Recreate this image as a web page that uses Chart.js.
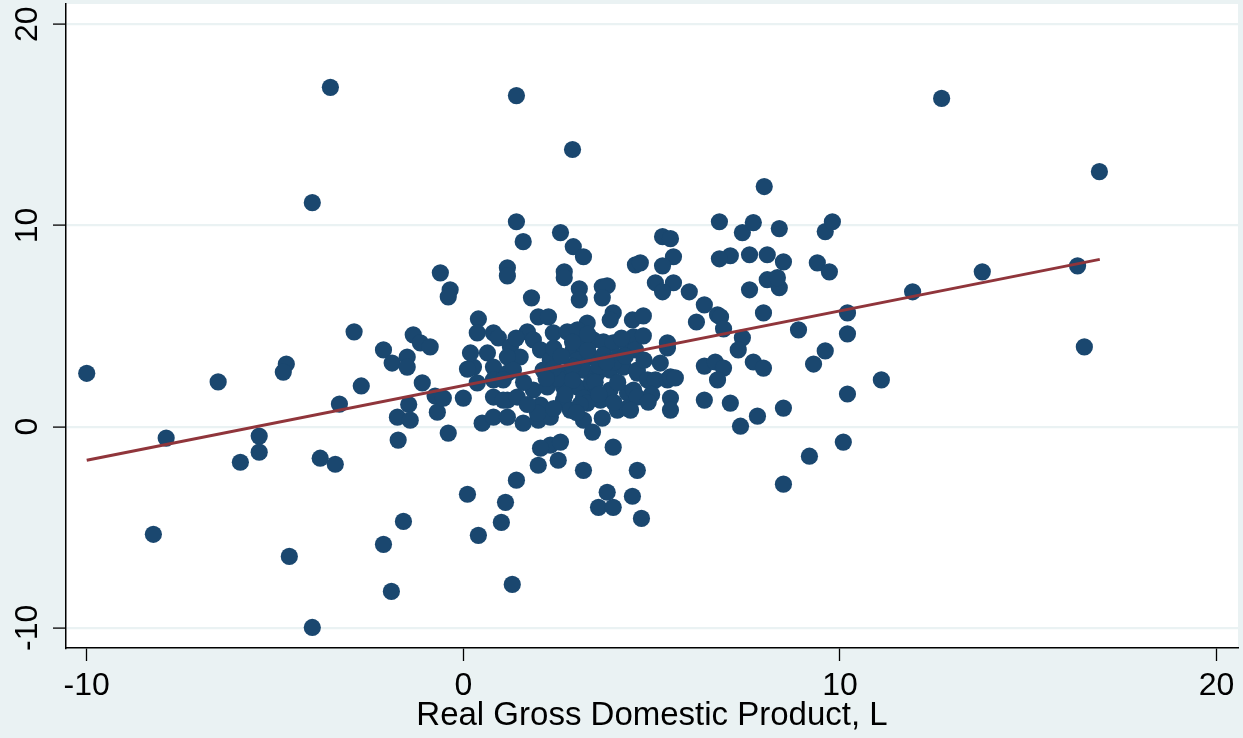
<!DOCTYPE html>
<html>
<head>
<meta charset="utf-8">
<script src="https://cdn.jsdelivr.net/npm/chart.js@4.4.1/dist/chart.umd.min.js"></script>
<style>
  html, body { margin: 0; padding: 0; background: #eaf2f3; }
  #wrap { width: 1243px; height: 738px; }
</style>
</head>
<body>
<div id="wrap"><canvas id="grafico"></canvas></div>
<script>
// Puntos observados (x = PIB real, L ; y = variable dependiente)
const puntosX = [
  -10.0, -7.89, -8.23, -6.51, -5.92, -5.42, -5.42, -4.70, -4.78, -4.62, -4.01, -4.01, -3.53, -3.80, -3.40, -3.29,
  -2.90, -2.71, -2.12, -2.12, -1.91, -1.89, -1.75, -1.73, -1.59, -1.49, -1.49, -1.45, -1.41, -1.33, -1.14, -0.88,
  -1.09, -0.75, -0.69, -0.61, -0.53, -0.35, -0.40, -0.40, 0.00, 0.11,
  0.40, 0.37, 0.80, 0.93, 0.27, 0.11, 0.19, 0.64, 0.80, 0.37, 0.80, 0.80, 1.17, 1.17, 0.50, 0.80, 1.17, 1.59, 1.99, 2.31,
  3.19, 3.43, 3.69, 3.98, 2.31, 2.58, 2.05, 1.99, 2.52, 3.19, 4.62, 3.82, 3.59, 3.98, 4.49, 4.73, 1.41, 1.12, 1.01, 0.40,
  1.30, 1.41, 2.90, 1.41, 1.59, 2.58, 2.92, 3.19, 1.17, 1.17, 2.68, 2.68, 3.08, 3.08, 3.69, 3.82, 3.69, 1.81, 1.99, 2.26,
  3.98, 3.90, 4.49, 3.29, 1.70, 2.39, 2.76, 3.03, 1.86, 1.25, 2.05, 2.92, 3.19, 3.45, 3.72, 3.98, 4.36, 4.52, 1.51, 2.31,
  3.03, 3.37, 3.72, 4.09, 1.17, 1.33, 2.12, 2.76, 3.19, 3.56, 3.90, 4.25, 4.62, 1.06, 1.86, 2.23, 2.66, 3.03, 3.45, 3.90,
  4.36, 1.06, 1.43, 2.66, 3.19, 3.64, 2.05, 1.97, 2.84, 3.29, 4.09, 4.36, 4.57, 4.62, 4.89, 5.10, 5.42, 4.52, 4.62, 4.44,
  5.42, 2.50, 3.40, 2.90, 3.60, 4.00, 2.40,
  2.40, 2.60, 2.90, 3.30, 3.50, 3.80, 4.10, 4.30, 2.20, 2.70, 3.10, 3.60, 4.00, 4.20, 3.30, 2.90, 1.60, 1.70, 2.40, 3.00,
  4.80, 5.00, 1.40,
  4.57, 4.70, 5.29, 5.50, 5.58, 5.29, 5.10, 5.58, 5.29, 6.00, 4.78, 4.78, 5.42, 5.23, 5.50, 5.63, 5.50, 5.50, 4.91,
  6.40, 6.19, 6.75, 6.83, 6.91, 6.40, 6.69, 6.91, 6.75, 6.40, 7.09, 7.36, 7.81, 7.41, 7.30, 7.70, 7.97, 7.97, 7.60, 8.39,
  8.07, 8.34, 7.60, 8.07, 7.09, 6.80, 8.50, 6.80, 7.41, 7.70, 8.39, 7.99, 8.50, 8.50, 8.90, 9.30, 9.61, 9.19, 10.09, 10.20,
  10.20, 10.20, 9.40, 9.72, 9.61, 9.80, 11.10, 11.93, 13.78, 12.70, 16.89, 16.31, 16.49
];
const puntosY = [
  2.65, -0.57, -5.35, 2.22, -1.77, -0.47, -1.27, 3.11, 2.71, -6.45, -9.98, 11.13, 16.86, -1.57, -1.87, 1.12,
  4.71, 2.02, 3.81, -5.85, -8.19, 3.16, 0.47, -0.67, -4.71, 3.46, 2.96, 1.10, 0.32, 4.56, 4.16, 3.96,
  2.17, 1.52, 0.72, 7.64, 1.42, 6.80, 6.45, -0.32, 1.42, -3.36,
  5.35, 4.66, 4.66, 4.41, 2.96, 2.86, 3.66, 3.66, 2.96, 2.17, 2.32, 1.47, 1.32, 2.66, 0.17, 0.47, 0.47, 0.17, 0.32, 0.47,
  0.32, -0.27, 0.42, -1.02, -0.92, -0.77, -1.07, -1.92, -1.67, -2.17, -2.17, -3.26, -4.01, -4.01, -3.46, -4.56, -2.66, -3.76, -4.76, -5.40,
  -7.84, 16.45, 13.77, 10.18, 9.19, 9.64, 8.94, 8.44, 7.89, 7.49, 7.69, 7.40, 6.85, 6.30, 6.95, 7.00, 6.40, 6.40, 5.45, 5.45,
  5.65, 5.30, 5.30, 5.15, 4.71, 4.66, 4.71, 4.81, 4.31, 3.96, 3.81, 3.81, 4.06, 4.31, 4.21, 4.16, 3.96, 4.46, 3.46, 3.31,
  3.31, 3.46, 3.56, 3.46, 3.46, 2.81, 2.81, 2.66, 2.81, 2.66, 2.81, 2.96, 2.66, 2.32, 1.82, 1.97, 1.97, 1.97, 1.82, 1.82,
  1.67, 1.32, 1.47, 1.32, 1.42, 1.32, 1.07, 0.67, 0.82, 1.17, 0.82, 0.92, 3.81, 2.81, 2.32, 2.32, 2.32, 1.82, 1.47, 0.82,
  3.91, 2.40, 2.20, 3.00, 3.00, 3.20, 2.90,
  3.90, 3.50, 2.30, 3.80, 2.20, 3.20, 2.20, 3.50, 2.40, 1.60, 1.10, 1.60, 1.20, 4.40, 4.60, 4.20, 2.20, 1.10, 0.90, 0.70,
  3.30, 1.60, 4.40,
  8.04, 8.14, 9.44, 9.34, 8.44, 7.99, 7.15, 7.15, 6.70, 6.70, 5.50, 4.51, 4.16, 3.16, 2.47, 2.42, 1.42, 0.82, 1.22,
  6.05, 5.20, 5.55, 5.45, 4.86, 3.01, 3.21, 2.91, 2.32, 1.32, 1.17, 0.02, 0.52, 4.41, 3.81, 3.21, 2.91, 5.65, 6.80, 6.90,
  7.30, 7.40, 8.54, 8.54, 8.49, 8.34, 8.19, 10.18, 9.64, 10.14, 9.84, 11.93, 0.92, -2.86, 4.81, 3.11, 3.76, -1.47, -0.77, 1.62,
  4.61, 5.65, 8.14, 7.69, 9.69, 10.18, 2.32, 6.70, 7.69, 16.31, 12.67, 7.99, 3.96
];

// Recta ajustada (extremos)
const ajusteX = [-10.0, 16.9];
const ajusteY = [-1.67, 8.31];

// Marcas de los ejes
const ticksX = [-10, 0, 10, 20];
const ticksY = [-10, 0, 10, 20];

const tituloX = 'Real Gross Domestic Product, L';

const puntos = puntosX.map((x, i) => ({ x: x, y: puntosY[i] }));
const recta = ajusteX.map((x, i) => ({ x: x, y: ajusteY[i] }));

// Fondo: gris azulado afuera, blanco dentro del area del grafico
const fondoStata = {
  id: 'fondoStata',
  beforeDraw(chart) {
    const { ctx, chartArea } = chart;
    ctx.save();
    ctx.fillStyle = '#eaf2f3';
    ctx.fillRect(0, 0, chart.width, chart.height);
    ctx.fillStyle = '#ffffff';
    ctx.fillRect(chartArea.left, chartArea.top, chartArea.right - chartArea.left, chartArea.bottom - chartArea.top);
    ctx.restore();
  }
};

const ctx = document.getElementById('grafico').getContext('2d');
const chart = new Chart(ctx, {
  type: 'scatter',
  data: {
    datasets: [
      {
        label: 'Fitted values',
        data: recta,
        showLine: true,
        borderColor: '#90353b',
        borderWidth: 3,
        pointRadius: 0,
        order: 0
      },
      {
        label: 'Observado',
        data: puntos,
        backgroundColor: '#1a476f',
        borderColor: '#1a476f',
        borderWidth: 0,
        pointRadius: 8.6,
        order: 1
      }
    ]
  },
  options: {
    responsive: true,
    maintainAspectRatio: false,
    animation: false,
    layout: { autoPadding: false, padding: { top: 4, right: 5, left: 0, bottom: 0 } },
    plugins: {
      legend: { display: false },
      tooltip: { enabled: false }
    },
    scales: {
      x: {
        type: 'linear',
        min: -10.55,
        max: 20.57,
        afterBuildTicks: (scale) => { scale.ticks = ticksX.map(v => ({ value: v })); },
        afterFit: (scale) => {
          scale.height = 90;
          scale.paddingLeft = 0;
          scale.paddingRight = 0;
        },
        grid: { drawOnChartArea: false, tickLength: 13, tickColor: '#000000', tickWidth: 1.3 },
        border: { color: '#000000', width: 1.5 },
        ticks: {
          color: '#000000',
          padding: 6,
          maxRotation: 0,
          font: { family: 'Liberation Sans, Arial, sans-serif', size: 32 }
        },
        title: {
          display: true,
          text: tituloX,
          color: '#000000',
          padding: { top: 0, bottom: 2 },
          font: { family: 'Liberation Sans, Arial, sans-serif', size: 33 }
        }
      },
      y: {
        type: 'linear',
        min: -11.0,
        max: 21.0,
        afterBuildTicks: (scale) => { scale.ticks = ticksY.map(v => ({ value: v })); },
        afterFit: (scale) => {
          scale.width = 66;
          scale.paddingTop = 0;
          scale.paddingBottom = 0;
        },
        grid: { color: '#eaf2f3', lineWidth: 2.2, tickLength: 13, tickColor: '#000000', tickWidth: 1.3 },
        border: { color: '#000000', width: 1.5 },
        ticks: {
          color: '#000000',
          padding: 2,
          minRotation: 90,
          maxRotation: 90,
          crossAlign: 'center',
          font: { family: 'Liberation Sans, Arial, sans-serif', size: 32 }
        }
      }
    }
  },
  plugins: [fondoStata]
});
</script>
</body>
</html>
